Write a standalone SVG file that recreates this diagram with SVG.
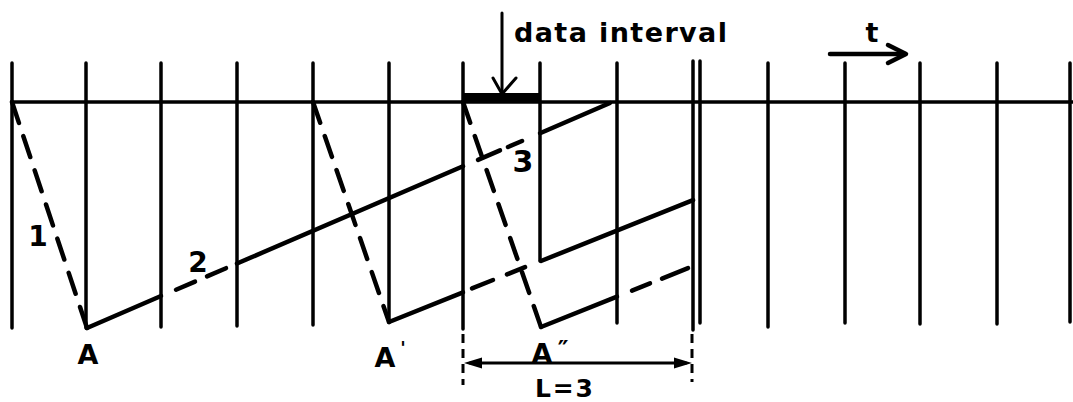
<svg xmlns="http://www.w3.org/2000/svg" width="1073" height="402" viewBox="0 0 1073 402">
<style>
.grid{stroke:#000;stroke-width:3.5;fill:none;stroke-linecap:round}
.saw{stroke:#000;stroke-width:4.5;fill:none;stroke-linecap:round;stroke-linejoin:round}
.dash{stroke:#000;stroke-width:4.5;fill:none;stroke-linecap:round;stroke-dasharray:22 14}
.vdash{stroke:#000;stroke-width:3;fill:none;stroke-dasharray:9 6}
.thin{stroke:#000;stroke-width:3;fill:none;stroke-linecap:round;stroke-linejoin:round}
.lbl{font-family:"DejaVu Sans","Liberation Sans",sans-serif;font-weight:bold;fill:#000}
</style>
<rect width="1073" height="402" fill="#fff"/>
<g id="grid">
<line class="grid" x1="12" y1="102" x2="1073" y2="102"/>
<line class="grid" x1="12" y1="63" x2="12" y2="328"/>
<line class="grid" x1="86" y1="63" x2="86" y2="328"/>
<line class="grid" x1="161" y1="63" x2="161" y2="327"/>
<line class="grid" x1="237" y1="63" x2="237" y2="326"/>
<line class="grid" x1="313" y1="63" x2="313" y2="325"/>
<line class="grid" x1="389" y1="63" x2="389" y2="322"/>
<line class="grid" x1="463" y1="63" x2="463" y2="329"/>
<line class="vdash" x1="463" y1="334" x2="463" y2="385"/>
<line class="grid" x1="540" y1="63" x2="540" y2="261"/>
<line class="grid" x1="617" y1="63" x2="617" y2="323"/>
<line class="grid" x1="693" y1="61" x2="693" y2="330"/>
<line class="vdash" x1="692" y1="334" x2="692" y2="382"/>
<line class="grid" x1="700" y1="61" x2="700" y2="323"/>
<line class="grid" x1="768" y1="63" x2="768" y2="327"/>
<line class="grid" x1="845" y1="63" x2="845" y2="323"/>
<line class="grid" x1="920" y1="63" x2="920" y2="324"/>
<line class="grid" x1="997" y1="63" x2="997" y2="324"/>
<line class="grid" x1="1070" y1="63" x2="1070" y2="322"/>
<rect x="463" y="93" width="77" height="9" fill="#000"/>
</g>
<g id="connectors">
<line class="dash" x1="12" y1="102" x2="87" y2="328"/>
<polyline class="saw" points="87,328 161,296"/>
<line class="saw" x1="176" y1="289.7" x2="195" y2="281.6"/>
<line class="saw" x1="207" y1="276.4" x2="226" y2="268.2"/>
<line class="saw" x1="237" y1="263.5" x2="463" y2="166.3"/>
<line class="saw" x1="478" y1="159.9" x2="500" y2="150.4"/>
<line class="saw" x1="508" y1="147" x2="522" y2="141"/>
<line class="saw" x1="540" y1="133.2" x2="610" y2="103"/>
<line class="dash" x1="313" y1="102" x2="389" y2="322"/>
<polyline class="saw" points="389,322 463,292.4"/>
<line class="saw" x1="472" y1="288.4" x2="493" y2="280"/>
<line class="saw" x1="507" y1="274.4" x2="525" y2="267.2"/>
<line class="saw" x1="541" y1="261" x2="693" y2="200.2"/>
<line class="dash" x1="463" y1="102" x2="541" y2="327"/>
<polyline class="saw" points="541,327 617,296.6"/>
<line class="saw" x1="632" y1="290.6" x2="650" y2="283.4"/>
<line class="saw" x1="662" y1="278.6" x2="688" y2="268.2"/>
<line class="thin" x1="502" y1="13" x2="502" y2="95"/>
<polyline class="thin" points="493,78 502,94 516,78"/>
<line class="saw" x1="830" y1="54" x2="905" y2="54"/>
<polyline class="saw" points="888,45 906,54 888,63"/>
<line class="thin" x1="470" y1="363" x2="686" y2="363"/>
<polygon points="464,363 482,357.5 482,368.5" fill="#000"/>
<polygon points="692,363 674,357.5 674,368.5" fill="#000"/>
</g>
<g id="labels">
<text class="lbl" x="514" y="42" font-size="27" textLength="213" lengthAdjust="spacing">data interval</text>
<text class="lbl" x="872" y="42" font-size="27" text-anchor="middle">t</text>
<text class="lbl" x="38" y="246" font-size="28" text-anchor="middle">1</text>
<text class="lbl" x="198" y="272" font-size="28" text-anchor="middle">2</text>
<text class="lbl" x="523" y="172" font-size="30" text-anchor="middle">3</text>
<text class="lbl" x="88" y="364" font-size="27" text-anchor="middle">A</text>
<text class="lbl" x="385" y="367" font-size="27" text-anchor="middle">A<tspan x="403" y="354" font-size="18">'</tspan></text>
<text class="lbl" x="542" y="363" font-size="27" text-anchor="middle">A<tspan x="563" y="358" font-size="24">″</tspan></text>
<text class="lbl" x="535" y="397" font-size="25" textLength="58" lengthAdjust="spacing">L = 3</text>
</g>
</svg>
